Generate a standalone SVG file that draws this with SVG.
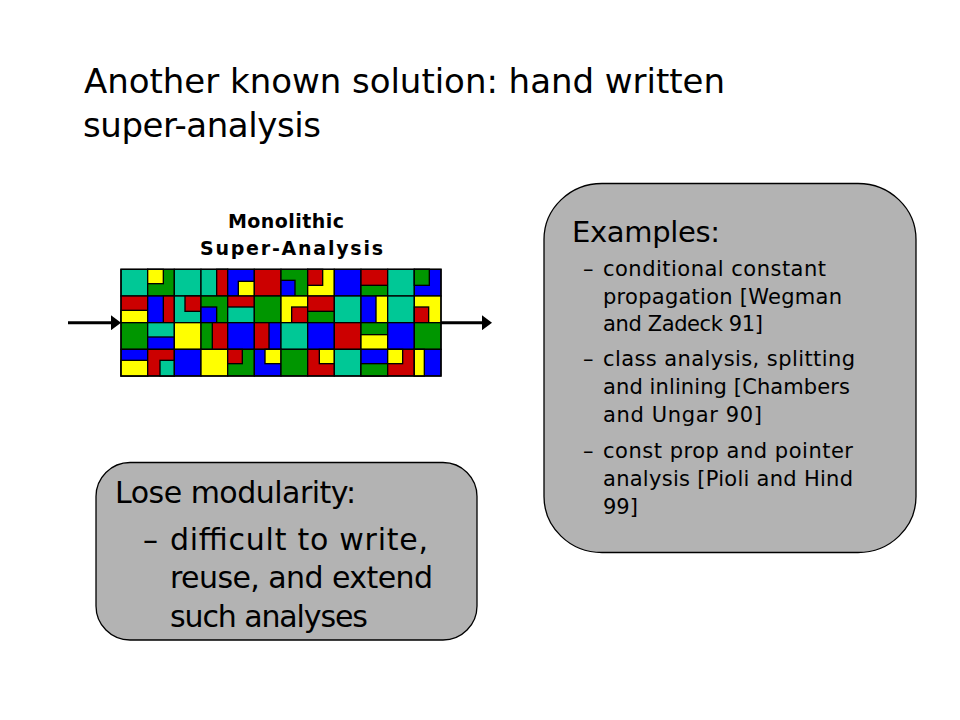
<svg xmlns="http://www.w3.org/2000/svg" width="960" height="720" viewBox="0 0 960 720">
<defs>
<style>
.t{font-family:"DejaVu Sans","Liberation Sans",sans-serif;fill:#000}
.title{font-size:34px}
.mono{font-size:19px;font-weight:bold}
.head{font-size:29px}
.item{font-size:21px}
.big{font-size:30px}
.box{fill:#b3b3b3;stroke:#000;stroke-width:1.3}
.m rect{stroke:#000;stroke-width:4}
.te{fill:#00c896}.g{fill:#009600}.y{fill:#ffff00}.b{fill:#0000ff}.r{fill:#cc0000}
.conn{stroke:#000;stroke-width:3;fill:none}
</style>
<marker id="ah" viewBox="0 0 10 15" refX="3" refY="7.5" markerWidth="10" markerHeight="15" markerUnits="userSpaceOnUse" orient="auto">
<path d="M0,0 L10,7.5 L0,15 Z" fill="#000"/>
</marker>
</defs>
<rect width="960" height="720" fill="#fff"/>
<g id="title">
<text class="t title" x="84" y="93" textLength="641" lengthAdjust="spacing">Another known solution: hand written</text>
<text class="t title" x="83" y="137" textLength="238" lengthAdjust="spacing">super-analysis</text>
</g>
<g id="monolithic">
<text class="t mono" x="228" y="228" textLength="116" lengthAdjust="spacing">Monolithic</text>
<text class="t mono" x="200" y="255" textLength="183" lengthAdjust="spacing">Super-Analysis</text>
<g class="m" transform="translate(121,269.33) scale(0.33333)">
<rect class="te" x="0" y="0" width="80" height="80"/>
<rect class="g" x="80" y="0" width="80" height="80"/><rect class="y" x="80" y="0" width="47" height="43"/>
<rect class="te" x="160" y="0" width="80" height="80"/>
<rect class="te" x="240" y="0" width="80" height="80"/><rect class="r" x="287" y="0" width="33" height="80"/>
<rect class="b" x="320" y="0" width="80" height="80"/><rect class="y" x="352" y="36" width="48" height="44"/>
<rect class="r" x="400" y="0" width="80" height="80"/>
<rect class="g" x="480" y="0" width="80" height="80"/><rect class="b" x="480" y="33" width="42" height="47"/>
<rect class="y" x="560" y="0" width="80" height="80"/><rect class="r" x="560" y="0" width="45" height="48"/>
<rect class="b" x="640" y="0" width="80" height="80"/>
<rect class="r" x="720" y="0" width="80" height="80"/><rect class="g" x="720" y="48" width="80" height="32"/>
<rect class="te" x="800" y="0" width="80" height="80"/>
<rect class="b" x="880" y="0" width="80" height="80"/><rect class="g" x="880" y="0" width="45" height="48"/>

<rect class="r" x="0" y="80" width="80" height="80"/><rect class="y" x="0" y="123" width="80" height="37"/>
<rect class="b" x="80" y="80" width="80" height="80"/><rect class="r" x="127" y="80" width="33" height="80"/>
<rect class="te" x="160" y="80" width="80" height="80"/><rect class="r" x="192" y="80" width="48" height="46"/>
<rect class="g" x="240" y="80" width="80" height="80"/><rect class="b" x="240" y="113" width="47" height="47"/>
<rect class="r" x="320" y="80" width="80" height="80"/><rect class="te" x="320" y="113" width="80" height="47"/>
<rect class="g" x="400" y="80" width="80" height="80"/>
<rect class="y" x="480" y="80" width="80" height="80"/><rect class="r" x="512" y="113" width="48" height="47"/>
<rect class="r" x="560" y="80" width="80" height="80"/><rect class="g" x="560" y="126" width="80" height="34"/>
<rect class="te" x="640" y="80" width="80" height="80"/>
<rect class="b" x="720" y="80" width="80" height="80"/><rect class="y" x="765" y="80" width="35" height="80"/>
<rect class="te" x="800" y="80" width="80" height="80"/>
<rect class="y" x="880" y="80" width="80" height="80"/><rect class="r" x="880" y="113" width="43" height="47"/>

<rect class="g" x="0" y="160" width="80" height="80"/>
<rect class="te" x="80" y="160" width="80" height="80"/><rect class="b" x="80" y="203" width="80" height="37"/>
<rect class="y" x="160" y="160" width="80" height="80"/>
<rect class="g" x="240" y="160" width="80" height="80"/><rect class="r" x="274" y="160" width="46" height="80"/>
<rect class="b" x="320" y="160" width="80" height="80"/>
<rect class="r" x="400" y="160" width="80" height="80"/><rect class="b" x="444" y="160" width="36" height="80"/>
<rect class="te" x="480" y="160" width="80" height="80"/>
<rect class="b" x="560" y="160" width="80" height="80"/>
<rect class="r" x="640" y="160" width="80" height="80"/>
<rect class="g" x="720" y="160" width="80" height="80"/><rect class="y" x="720" y="196" width="80" height="44"/>
<rect class="b" x="800" y="160" width="80" height="80"/>
<rect class="g" x="880" y="160" width="80" height="80"/>

<rect class="b" x="0" y="240" width="80" height="80"/><rect class="y" x="0" y="273" width="80" height="47"/>
<rect class="r" x="80" y="240" width="80" height="80"/><rect class="te" x="117" y="273" width="43" height="47"/>
<rect class="b" x="160" y="240" width="80" height="80"/>
<rect class="y" x="240" y="240" width="80" height="80"/>
<rect class="g" x="320" y="240" width="80" height="80"/><rect class="r" x="320" y="240" width="44" height="43"/>
<rect class="b" x="400" y="240" width="80" height="80"/><rect class="y" x="432" y="240" width="48" height="43"/>
<rect class="g" x="480" y="240" width="80" height="80"/>
<rect class="r" x="560" y="240" width="80" height="80"/><rect class="y" x="595" y="240" width="45" height="43"/>
<rect class="te" x="640" y="240" width="80" height="80"/>
<rect class="b" x="720" y="240" width="80" height="80"/><rect class="g" x="720" y="283" width="80" height="37"/>
<rect class="r" x="800" y="240" width="80" height="80"/><rect class="y" x="800" y="240" width="45" height="43"/>
<rect class="b" x="880" y="240" width="80" height="80"/><rect class="y" x="880" y="240" width="30" height="80"/>
<rect x="0" y="0" width="960" height="320" fill="none"/>
</g>
</g>
<g id="connectors">
<line class="conn" x1="68" y1="322.7" x2="114" y2="322.7" marker-end="url(#ah)"/>
<line class="conn" x1="441" y1="322.7" x2="485" y2="322.7" marker-end="url(#ah)"/>
</g>
<g id="examples">
<rect class="box" x="544" y="183.5" width="372" height="369" rx="58" ry="56"/>
<text class="t head" x="572" y="242" textLength="148" lengthAdjust="spacing">Examples:</text>
<text class="t item" x="583" y="276">–</text>
<text class="t item" x="603" y="276" textLength="223" lengthAdjust="spacing">conditional constant</text>
<text class="t item" x="603" y="304" textLength="239" lengthAdjust="spacing">propagation [Wegman</text>
<text class="t item" x="603" y="331" textLength="160" lengthAdjust="spacing">and Zadeck 91]</text>
<text class="t item" x="583" y="366">–</text>
<text class="t item" x="603" y="366" textLength="252" lengthAdjust="spacing">class analysis, splitting</text>
<text class="t item" x="603" y="394" textLength="247" lengthAdjust="spacing">and inlining [Chambers</text>
<text class="t item" x="603" y="422" textLength="159" lengthAdjust="spacing">and Ungar 90]</text>
<text class="t item" x="583" y="458">–</text>
<text class="t item" x="603" y="458" textLength="250" lengthAdjust="spacing">const prop and pointer</text>
<text class="t item" x="603" y="486" textLength="250" lengthAdjust="spacing">analysis [Pioli and Hind</text>
<text class="t item" x="603" y="514">99]</text>
</g>
<g id="modularity">
<rect class="box" x="96" y="462.5" width="381" height="177.5" rx="34" ry="34"/>
<text class="t big" x="115" y="503" textLength="241" lengthAdjust="spacing">Lose modularity:</text>
<text class="t big" x="143" y="550">–</text>
<text class="t big" x="170" y="550" textLength="258" lengthAdjust="spacing">difficult to write,</text>
<text class="t big" x="170" y="588" textLength="263" lengthAdjust="spacing">reuse, and extend</text>
<text class="t big" x="170" y="627" textLength="198" lengthAdjust="spacing">such analyses</text>
</g>
</svg>
